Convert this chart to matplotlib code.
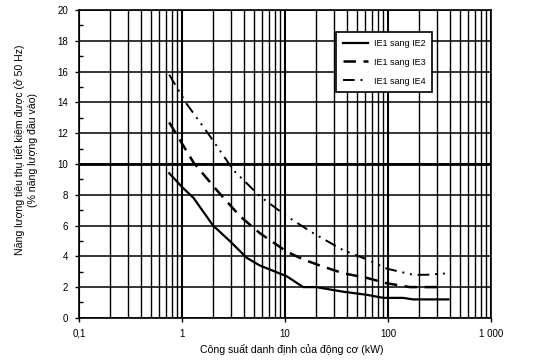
import matplotlib

matplotlib.use("Agg", force=True)
import matplotlib.pyplot as plt
from matplotlib.ticker import FixedLocator, LogLocator, NullFormatter

plt.rcParams["font.family"] = ["Liberation Sans", "DejaVu Sans"]

# rated motor power (kW) and savings (%)
kw_ie2 = [0.75, 1.0, 1.29, 2.0, 2.9, 4.25, 5.7, 10.4, 15, 20, 36.7, 62, 90, 140, 175, 385]
pct_ie2 = [9.4, 8.5, 7.8, 6.0, 5.0, 3.9, 3.4, 2.7, 2.0, 2.0, 1.7, 1.5, 1.3, 1.3, 1.2, 1.2]

kw_ie3 = [0.75, 1.29, 2.17, 3.66, 5.7, 10.4, 15, 21.8, 36.7, 62, 97, 163, 344]
pct_ie3 = [12.7, 10.1, 8.3, 6.6, 5.5, 4.3, 3.8, 3.4, 2.9, 2.6, 2.25, 2.0, 2.0]

kw_ie4 = [0.75, 1.11, 1.87, 3.15, 5.7, 10.4, 18.8, 36.7, 62, 97, 175, 237, 385]
pct_ie4 = [15.8, 13.9, 11.8, 9.6, 7.9, 6.6, 5.5, 4.4, 3.8, 3.2, 2.8, 2.8, 2.9]

x_ticks = [0.1, 1, 10, 100, 1000]
x_tick_labels = ["0,1", "1", "10", "100", "1 000"]
y_ticks = list(range(0, 21, 2))

fig = plt.figure(figsize=(5.53, 3.6), dpi=100)
ax = fig.add_axes([0.143, 0.117, 0.745, 0.855])

ax.set_xscale("log")
ax.set_xlim(0.1, 1000)
ax.set_ylim(0, 20)

# grid
ax.xaxis.set_minor_locator(LogLocator(base=10, subs=range(2, 10)))
ax.xaxis.set_minor_formatter(NullFormatter())
ax.grid(True, which="minor", axis="x", color="black", lw=1.0)
ax.grid(True, which="major", axis="x", color="black", lw=1.5)
ax.grid(True, which="major", axis="y", color="black", lw=1.1)
ax.axhline(10, color="black", lw=2.0)

ax.plot(kw_ie2, pct_ie2, color="black", lw=1.6, label="IE1 sang IE2")
ax.plot(kw_ie3, pct_ie3, color="black", lw=1.8, dashes=(5, 3), label="IE1 sang IE3")
ax.plot(kw_ie4, pct_ie4, color="black", lw=1.4, dashes=(6, 3, 1, 3, 1, 3),
        label="IE1 sang IE4")

ax.set_xticks(x_ticks)
ax.set_xticklabels(x_tick_labels)
ax.set_yticks(y_ticks)
ax.yaxis.set_minor_locator(FixedLocator(range(1, 20, 2)))
ax.tick_params(axis="both", which="major", labelsize=7, length=3, width=1, pad=5)
ax.tick_params(axis="x", which="minor", length=0)
ax.tick_params(axis="y", which="minor", direction="in", length=3, width=1)

for sp in ax.spines.values():
    sp.set_linewidth(1.2)

ax.set_xlabel("Công suất danh định của động cơ (kW)", fontsize=7.6)
ax.xaxis.set_label_coords(0.515, -0.085)
ax.set_ylabel("Năng lượng tiêu thụ tiết kiệm được (ở 50 Hz)\n(% năng lượng đầu vào)",
              fontsize=7.6)
ax.yaxis.set_label_coords(-0.1, 0.545)

leg = ax.legend(loc="upper right", bbox_to_anchor=(0.857, 0.929), borderaxespad=0,
                fontsize=6.5, frameon=True, fancybox=False, edgecolor="black",
                framealpha=1, handlelength=2.8, handletextpad=0.6,
                borderpad=0.75, labelspacing=1.1)
leg.get_frame().set_linewidth(1.2)

fig.savefig("out.png", dpi=100)
